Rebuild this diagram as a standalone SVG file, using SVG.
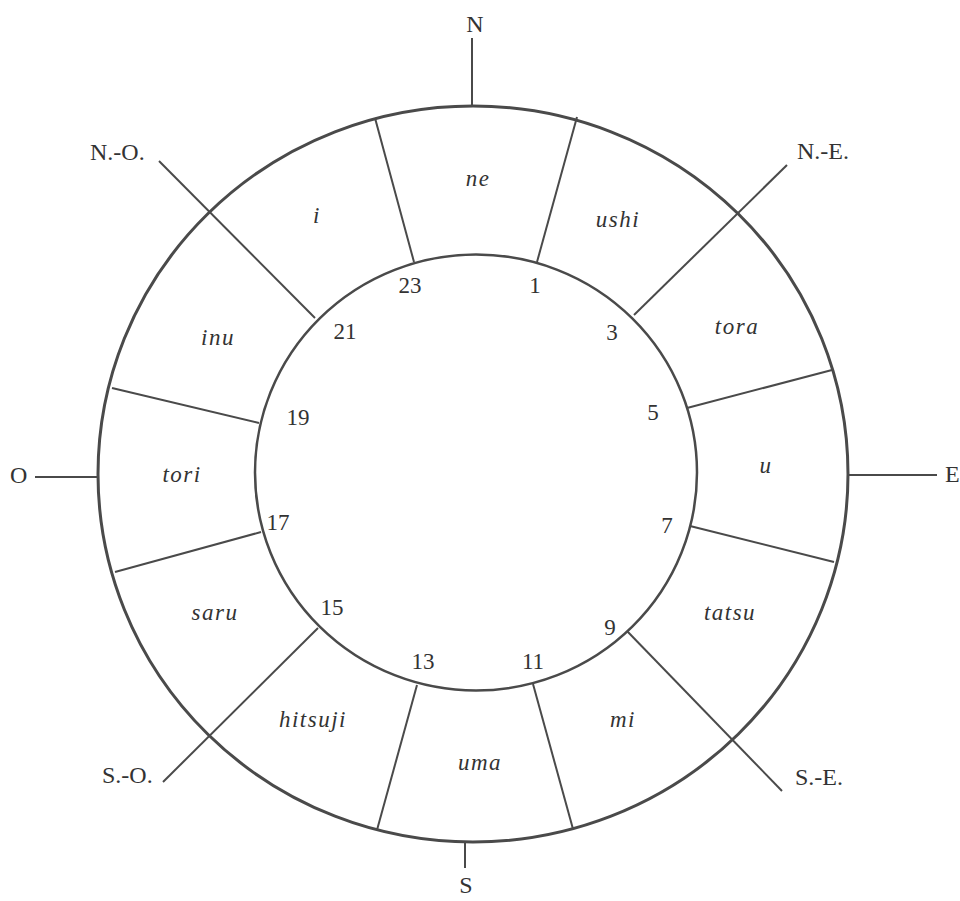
<svg xmlns="http://www.w3.org/2000/svg" width="960" height="901" viewBox="0 0 960 901">
<style>
.ring{fill:none;stroke:#4a4a4a;stroke-width:3}
.inner{fill:none;stroke:#4a4a4a;stroke-width:2.5}
.ln{stroke:#4a4a4a;stroke-width:2;fill:none}
.dir{font-family:"Liberation Serif",serif;font-size:24px;fill:#333}
.num{font-family:"Liberation Serif",serif;font-size:23px;fill:#333;text-anchor:middle}
.lbl{font-family:"Liberation Serif",serif;font-style:italic;font-size:23px;fill:#333;text-anchor:middle;letter-spacing:1.5px}
</style>
<rect width="960" height="901" fill="#fff"/>
<g id="rings">
<ellipse class="ring" cx="473" cy="474" rx="375" ry="368"/>
<ellipse class="inner" cx="476" cy="472.5" rx="221" ry="218"/>
</g>
<g id="connectors">
<line class="ln" x1="414" y1="262" x2="375" y2="118"/>
<line class="ln" x1="537" y1="262" x2="577" y2="117"/>
<line class="ln" x1="634" y1="315" x2="787" y2="165"/>
<line class="ln" x1="687" y1="408" x2="832" y2="370"/>
<line class="ln" x1="690" y1="526" x2="834" y2="562"/>
<line class="ln" x1="627" y1="631" x2="782" y2="791"/>
<line class="ln" x1="533" y1="684" x2="573" y2="829"/>
<line class="ln" x1="417" y1="685" x2="377" y2="830"/>
<line class="ln" x1="318" y1="628" x2="163" y2="782"/>
<line class="ln" x1="261" y1="532" x2="115" y2="572"/>
<line class="ln" x1="259" y1="423" x2="112" y2="388"/>
<line class="ln" x1="315" y1="318" x2="159" y2="161"/>
<line class="ln" x1="472" y1="38" x2="472" y2="106"/>
<line class="ln" x1="848" y1="475" x2="937" y2="475"/>
<line class="ln" x1="465" y1="842" x2="465" y2="868"/>
<line class="ln" x1="35" y1="477" x2="98" y2="477"/>
</g>
<g id="directions">
<text class="dir" x="475" y="32" text-anchor="middle">N</text>
<text class="dir" x="797" y="159">N.-E.</text>
<text class="dir" x="945" y="482">E</text>
<text class="dir" x="795" y="785">S.-E.</text>
<text class="dir" x="466" y="893" text-anchor="middle">S</text>
<text class="dir" x="102" y="783">S.-O.</text>
<text class="dir" x="10" y="483">O</text>
<text class="dir" x="90" y="160">N.-O.</text>
</g>
<g id="sectors">
<text class="lbl" x="478" y="186">ne</text>
<text class="lbl" x="618" y="227">ushi</text>
<text class="lbl" x="737" y="334">tora</text>
<text class="lbl" x="766" y="473">u</text>
<text class="lbl" x="730" y="620">tatsu</text>
<text class="lbl" x="623" y="727">mi</text>
<text class="lbl" x="480" y="770">uma</text>
<text class="lbl" x="313" y="727">hitsuji</text>
<text class="lbl" x="215" y="620">saru</text>
<text class="lbl" x="182" y="482">tori</text>
<text class="lbl" x="218" y="345">inu</text>
<text class="lbl" x="317" y="223">i</text>
</g>
<g id="hours">
<text class="num" x="410" y="293">23</text>
<text class="num" x="535" y="293">1</text>
<text class="num" x="612" y="340">3</text>
<text class="num" x="653" y="420">5</text>
<text class="num" x="667" y="533">7</text>
<text class="num" x="610" y="635">9</text>
<text class="num" x="533" y="669">11</text>
<text class="num" x="423" y="669">13</text>
<text class="num" x="332" y="615">15</text>
<text class="num" x="278" y="530">17</text>
<text class="num" x="298" y="425">19</text>
<text class="num" x="345" y="339">21</text>
</g>
</svg>
